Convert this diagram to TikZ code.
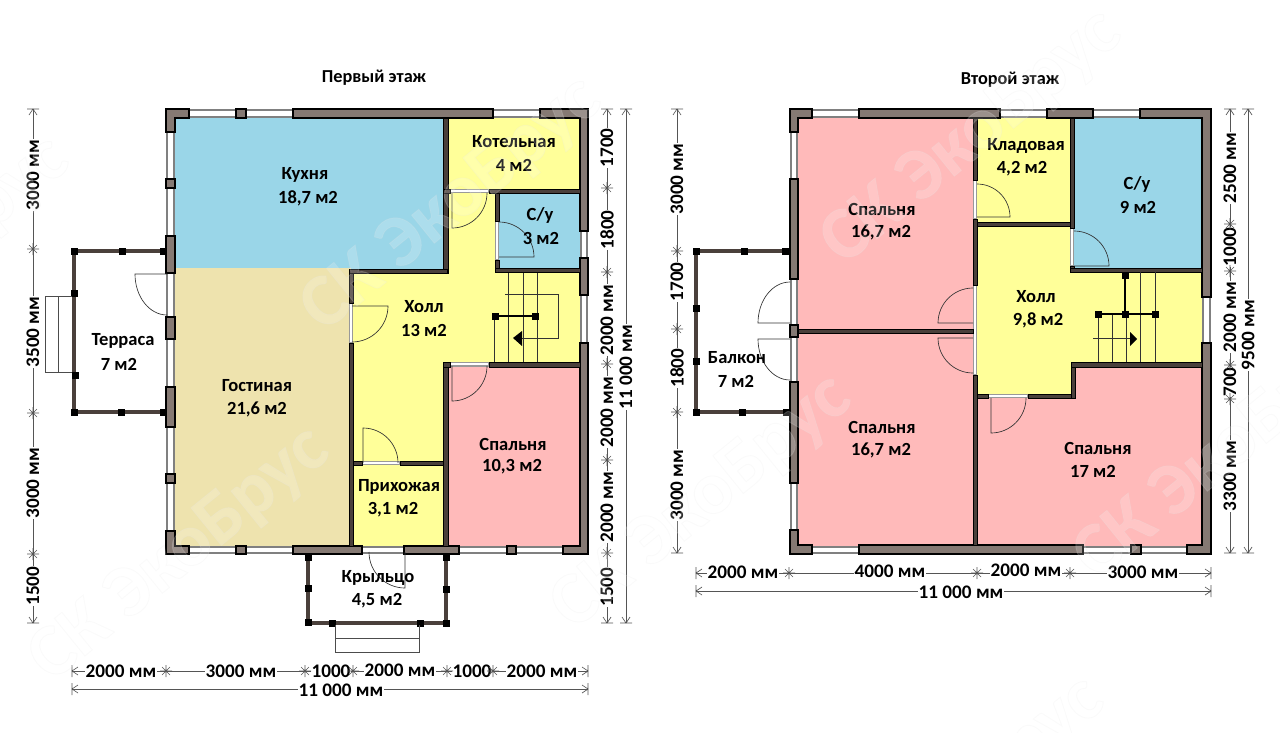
\documentclass[tikz,border=0pt]{standalone}
\usepackage{fontspec}
\setmainfont{Carlito}
\usetikzlibrary{positioning}

\definecolor{wallgray}{HTML}{857973}
\definecolor{walldark}{HTML}{4A403B}
\definecolor{roomblue}{HTML}{9AD6E8}
\definecolor{roomtan}{HTML}{EEE3AE}
\definecolor{roomyellow}{HTML}{FFFF99}
\definecolor{roompink}{HTML}{FFBABA}
\definecolor{dimgray}{HTML}{555555}

\newcommand{\door}[4]{\draw[doorline] (#1) -- ++(#2:#4) arc[start angle=#2, delta angle=#3, radius=#4];}
\newcommand{\dimstar}[1]{\draw[dimtick, shift={(#1)}] (-6,0) -- (6,0) (0,-6) -- (0,6) (-4,-4) -- (4,4) (-4,4) -- (4,-4);}
\newcommand{\dimend}[2]{\draw[dimtick, shift={(#1)}, rotate=#2] (-6,0) -- (6,0) (-4,6) -- (0,0) -- (4,6);}
\newcommand{\wmark}[2]{\node[watermark] (#2) at (#1) {\special{pdf:code 2 Tr 0.7 w 0.9 G}СК ЭкоБрус\special{pdf:code 0 Tr}};}

\begin{document}
\begin{tikzpicture}[x=0.75pt, y=-0.75pt,
    wall/.style={draw=black, line width=0.8pt, fill=wallgray},
    thinwall/.style={draw=black, line width=0.5pt, fill=walldark},
    windowpane/.style={draw=gray, line width=1.8pt, fill=white},
    innerpane/.style={draw=gray!80, line width=0.8pt, fill=white},
    railing/.style={draw=walldark, line width=2.4pt},
    post/.style={fill=black},
    stepline/.style={draw=black!70, line width=0.6pt},
    stairline/.style={draw=black!80, line width=0.6pt},
    doorline/.style={draw=black!80, line width=0.5pt},
    dimline/.style={draw=dimgray, line width=0.7pt},
    dimtick/.style={draw=dimgray, line width=0.5pt},
    dimlabel/.style={fill=white, inner sep=0.6pt, font=\fontsize{14.4pt}{16pt}\selectfont\bfseries},
    roomlabel/.style={inner sep=0pt, font=\fontsize{13.9pt}{16pt}\selectfont\bfseries},
    title/.style={inner sep=0pt, font=\fontsize{13.7pt}{16pt}\selectfont\bfseries},
    watermark/.style={inner sep=0pt, rotate=39, text=white, text opacity=.18, font=\fontsize{56pt}{60pt}\selectfont\bfseries},
  ]
    \useasboundingbox (0,0) rectangle (1280,732);

    % first floor rooms
    \fill[roomblue] (172,115) rectangle (446,270);
    \fill[roomtan] (172,268) rectangle (351,550);
    \fill[roomyellow] (446,115) rectangle (584,191);
    \fill[roomblue] (497,191) rectangle (584,270);
    \fill[roomyellow] (351,271) -- (446,271) -- (446,191) -- (497,191) -- (497,270) -- (584,270) -- (584,365) -- (446,365) -- (446,550) -- (351,550) -- cycle;
    \fill[roompink] (446,365) rectangle (584,550);

    % second floor rooms
    \fill[roompink] (795,115) rectangle (975,550);
    \fill[roomyellow] (975,115) rectangle (1072,224);
    \fill[roomblue] (1072,115) rectangle (1206,270);
    \fill[roomyellow] (975,224) -- (1072,224) -- (1072,270) -- (1206,270) -- (1206,365) -- (1073,365) -- (1073,396) -- (975,396) -- cycle;
    \fill[roompink] (975,396) -- (1073,396) -- (1073,365) -- (1206,365) -- (1206,550) -- (975,550) -- cycle;

    % windows and door openings in the outer walls
    \foreach \a/\b/\c/\d in {189/110.2/293/116.8, 493/110.2/540/116.8, 167.2/132/173.8/236, 167.2/273/173.8/317, 167.2/339/173.8/387, 167.2/427/173.8/531, 189/547.2/293/552.8, 362/547.2/404/552.8, 459/547.2/563/552.8, 581.2/231/586.8/258, 581.2/295/586.8/343,
        812/110.2/859/116.8, 1000/110.2/1047/116.8, 1093/110.2/1140/116.8, 791.2/132/796.8/179, 791.2/279/796.8/382, 791.2/483/796.8/530, 812/547.2/859/552.8, 1083/547.2/1187/552.8, 1203.2/297/1209.8/343}
      \draw[windowpane] (\a,\b) rectangle (\c,\d);
    \foreach \a/\b/\c/\d in {450/189.5/489/192.5, 495.5/221/498.5/260, 349.5/303/352.5/343, 450/362.5/489/366, 362/461.5/400/464.5,
        973.5/180/976.5/219, 973.5/285/976.5/375, 1070.5/228/1073.5/266, 988/394.5/1028/397.5}
      \draw[innerpane] (\a,\b) rectangle (\c,\d);

    % outer walls
    \foreach \a/\b/\c/\d in {293/109/493/118, 236/109/246/118, 236/546/246/554, 166/179/175/188, 166/236/175/273, 166/317/175/339, 166/387/175/427, 166/474/175/483, 293/546/362/554, 404/546/459/554, 507/546/516/554, 580/258/588/295,
        859/109/1000/118, 1047/109/1093/118, 790/179/798/279, 790/325/798/337, 790/382/798/483, 859/545/1083/554, 1131/545/1141/554}
      \draw[wall] (\a,\b) rectangle (\c,\d);
    \draw[wall] (166,109) -- (189,109) -- (189,118) -- (175,118) -- (175,132) -- (166,132) -- cycle;
    \draw[wall] (166,531) -- (175,531) -- (175,546) -- (189,546) -- (189,554) -- (166,554) -- cycle;
    \draw[wall] (540,109) -- (588,109) -- (588,231) -- (580,231) -- (580,118) -- (540,118) -- cycle;
    \draw[wall] (588,343) -- (588,554) -- (563,554) -- (563,546) -- (580,546) -- (580,343) -- cycle;
    \draw[wall] (790,109) -- (812,109) -- (812,118) -- (798,118) -- (798,132) -- (790,132) -- cycle;
    \draw[wall] (790,530) -- (798,530) -- (798,545) -- (812,545) -- (812,554) -- (790,554) -- cycle;
    \draw[wall] (1140,109) -- (1211,109) -- (1211,297) -- (1202,297) -- (1202,118) -- (1140,118) -- cycle;
    \draw[wall] (1211,343) -- (1211,554) -- (1187,554) -- (1187,545) -- (1202,545) -- (1202,343) -- cycle;

    % inner walls
    \foreach \a/\b/\c/\d in {443/118/448/273, 349/269/447/273, 349/273/353/303, 349/343/353/546, 443/189/450/193, 489/189/580/193, 495/193/499/221, 495/260/499/272, 495/268/580/272, 443/362/450/367, 489/362/580/367, 443/367/448/546, 353/461/362/465, 400/461/443/465,
        973/118/977/180, 973/219/977/285, 973/375/977/545, 798/329/973/333, 1070/118/1074/228, 1070/266/1074/272, 977/222/1070/226, 1070/268/1202/272, 1071/362/1202/367, 1071/367/1075/398, 977/394/988/398, 1028/394/1071/398}
      \draw[thinwall] (\a,\b) rectangle (\c,\d);

    % doors
    \door{452,193}{90}{-90}{35}
    \door{499,257}{0}{-90}{35}
    \door{352,306}{0}{90}{36}
    \door{452,366}{90}{-90}{35}
    \door{363,463}{-90}{90}{35}
    \door{405,552}{90}{90}{36}
    \door{973,323}{180}{90}{35}
    \door{973,338}{180}{-90}{35}
    \door{977,217}{0}{-90}{33}
    \door{1074,266}{0}{-90}{35}
    \door{991,398}{90}{-90}{35}
    \draw[doorline] (167,274) -- (135,274) arc[start angle=180, delta angle=-90, x radius=32, y radius=41];
    \draw[doorline] (790,323) -- (758,323) arc[start angle=180, delta angle=90, x radius=32, y radius=41];
    \draw[doorline] (790,339) -- (758,339) arc[start angle=180, delta angle=-90, x radius=32, y radius=41];

    % terrace, porch and balcony
    \draw[railing] (166,251) -- (74,251) -- (74,412) -- (166,412);
    \draw[railing] (308,554) -- (308,623) -- (446,623) -- (446,554);
    \draw[railing] (789,251) -- (696,251) -- (696,412) -- (789,412);
    \foreach \x/\y in {74/251, 122/251, 163/251, 74/293, 75/375, 74/412, 121/412, 163/412,
        308/557, 308/588, 308/622, 332/623, 420/623, 446/623, 446/589, 446/557,
        696/251, 744/251, 785/251, 696/308, 696/361, 696/412, 742/412, 786/412}
      \fill[post] (\x-3.5,\y-3.5) rectangle (\x+3.5,\y+3.5);
    \draw[stepline] (72,296) -- (45,296) -- (45,372) -- (72,372) (58,296) -- (58,372);
    \draw[stepline] (335,625) -- (335,652) -- (419,652) -- (419,625) (335,638) -- (419,638);

    % stairs, first floor
    \foreach \x in {508,523,537} \draw[stairline] (\x,273) -- (\x,362);
    \draw[stairline] (494,316) -- (494,362);
    \draw[stairline] (505,294) -- (558,294) -- (558,338) -- (522,338);
    \fill[black] (513,338) -- (522,331) -- (522,346) -- cycle;
    \draw[black, line width=1.5pt] (495,316) -- (535,316);
    \foreach \x in {495,535} \fill[post] (\x-3.5,312.5) rectangle (\x+3.5,319.5);

    % stairs, second floor
    \foreach \x in {1098,1112,1126,1140,1155} \draw[stairline] (\x,314) -- (\x,362);
    \foreach \x in {1140,1155} \draw[stairline] (\x,272) -- (\x,314);
    \draw[stairline] (1093,338) -- (1130,338);
    \fill[black] (1137,339) -- (1130,332) -- (1130,346) -- cycle;
    \draw[black, line width=1.5pt] (1098,314) -- (1155,314) (1125,275) -- (1125,314);
    \foreach \x/\y in {1098/314, 1125/314, 1155/314, 1125/275} \fill[post] (\x-3.5,\y-3.5) rectangle (\x+3.5,\y+3.5);

    % dimension lines
    \draw[dimline] (33,109) -- (33,623);
    \draw[dimline] (607,109) -- (607,623);
    \draw[dimline] (626,109) -- (626,623);
    \draw[dimline] (72,671) -- (588,671);
    \draw[dimline] (72,689) -- (588,689);
    \draw[dimline] (677,109) -- (677,553);
    \draw[dimline] (1230,109) -- (1230,553);
    \draw[dimline] (1248,109) -- (1248,553);
    \draw[dimline] (696,573) -- (1211,573);
    \draw[dimline] (696,591) -- (1211,591);

    \foreach \x/\y/\txt [count=\i] in {33/175/3000 мм, 33/332/3500 мм, 33/483/3000 мм, 33/586/1500,
        607/148/1700, 607/230/1800, 607/320/2000 мм, 607/412/2000 мм, 607/507/2000 мм, 607/587/1500, 626/367/11 000 мм,
        677/179/3000 мм, 677/282/1700, 677/368/1800, 677/485/3000 мм,
        1230/168/2500 мм, 1230/247/1000, 1230/317/2000 мм, 1230/382/700, 1230/476/3300 мм, 1248/335/9500 мм}
      \node[dimlabel, rotate=90] (vdim\i) at (\x,\y) {\txt};
    \foreach \x/\y/\txt [count=\i] in {121/671/2000 мм, 241/671/3000 мм, 331/671/1000, 400/670/2000 мм, 472/671/1000, 542/671/2000 мм, 341/690/11 000 мм,
        743/572/2000 мм, 890/571/4000 мм, 1026/570/2000 мм, 1143/572/3000 мм, 961/592/11 000 мм}
      \node[dimlabel] (hdim\i) at (\x,\y) {\txt};

    \foreach \x/\y in {33/249, 33/413, 33/554, 607/188, 607/272, 607/364, 607/460, 607/553,
        166/671, 305/671, 353/671, 447/671, 493/671,
        677/251, 677/329, 677/412, 1230/224, 1230/271, 1230/365, 1230/399,
        789/573, 977/573, 1070/573}
      {\dimstar{\x,\y}}
    \foreach \x/\y in {33/109, 607/109, 626/109, 677/109, 1230/109, 1248/109} {\dimend{\x,\y}{0}}
    \foreach \x/\y in {33/623, 607/623, 626/623, 677/553, 1230/553, 1248/553} {\dimend{\x,\y}{180}}
    \foreach \x/\y in {72/671, 72/689, 696/573, 696/591} {\dimend{\x,\y}{90}}
    \foreach \x/\y in {588/671, 588/689, 1211/573, 1211/591} {\dimend{\x,\y}{-90}}

    % titles and room labels
    \node[title] (title1) at (374,78) {Первый этаж};
    \node[title] (title2) at (1010,80) {Второй этаж};
    \foreach \x/\y/\txt [count=\i] in {305/175/Кухня, 308/198/{18,7 м2}, 514/142/Котельная, 514/165/4 м2, 540/215/{С/у}, 541/238/3 м2,
        424/307/Холл, 424/330/13 м2, 257/386/Гостиная, 257/409/{21,6 м2}, 513/444/Спальня, 512/467/{10,3 м2},
        399/487/Прихожая, 393/510/{3,1 м2}, 378/578/Крыльцо, 377/601/{4,5 м2}, 123/341/Терраса, 119/364/7 м2,
        882/209/Спальня, 881/232/{16,7 м2}, 1026/146/Кладовая, 1022/169/{4,2 м2}, 1137/184/{С/у}, 1138/207/9 м2,
        1036/297/Холл, 1038/320/{9,8 м2}, 737/358/Балкон, 736/381/7 м2, 882/427/Спальня, 881/450/{16,7 м2},
        1098/448/Спальня, 1093/471/17 м2}
      \node[roomlabel] (room\i) at (\x,\y) {\txt};

    % watermark
    \wmark{180,555}{mark1}
    \wmark{452,205}{mark2}
    \wmark{702,503}{mark3}
    \wmark{972,138}{mark4}
    \wmark{1225,453}{mark5}
    \wmark{-80,265}{mark6}
    \wmark{955,805}{mark7}
  \end{tikzpicture}
\end{document}
